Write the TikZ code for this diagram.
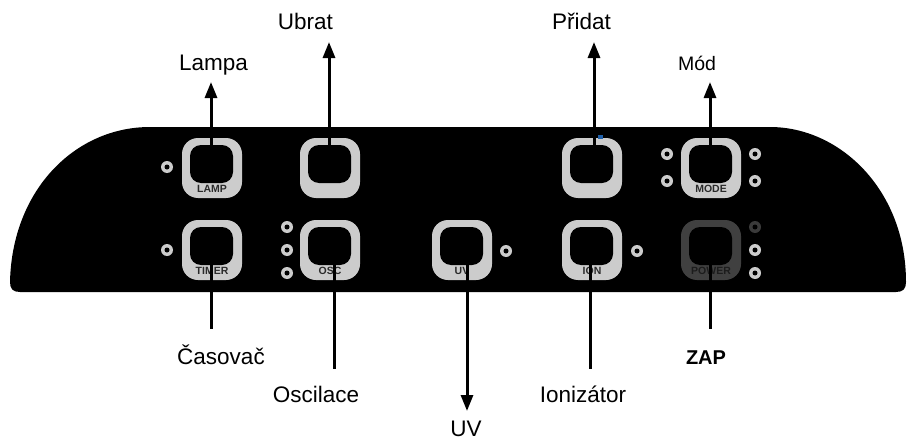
\documentclass[tikz,border=0pt]{standalone}
\usepackage{fontspec}
\setmainfont{Liberation Sans}
\usetikzlibrary{arrows.meta}
\definecolor{btngray}{HTML}{CCCCCC}
\definecolor{pwrgray}{HTML}{404040}
\definecolor{lbldark}{HTML}{2A2A2A}
\definecolor{pwrtext}{HTML}{1C1C1C}
\definecolor{leddark}{HTML}{3A3A3A}
\definecolor{ledblue}{HTML}{1F5FA8}
\newcommand\panelbtn[6]{%
  \node[rim,fill=#5] (#1) at (#2,#3) {};
  \node[hole] (#1h) at (#2-0.5,#3-4) {};
  \node[btxt,text=#6] (#1t) at (#2,#3+20.5) {#4};
}
\newcommand\panelled[4]{%
  \node[ledo,fill=#4] (#1) at (#2,#3) {};
  \node[ledi] (#1c) at (#2,#3) {};
}
\begin{document}
\begin{tikzpicture}[x=1pt,y=-1pt,
  rim/.style={draw=none,rectangle,minimum width=60pt,minimum height=60pt,rounded corners=16pt,inner sep=0pt},
  hole/.style={draw=none,fill=black,rectangle,minimum width=43pt,minimum height=38pt,rounded corners=11pt,inner sep=0pt},
  btxt/.style={font=\fontsize{10.5}{12}\selectfont\bfseries,inner sep=0pt},
  ledo/.style={circle,minimum size=12pt,inner sep=0pt},
  ledi/.style={circle,fill=black,minimum size=5pt,inner sep=0pt},
  lbl/.style={font=\fontsize{22.5}{26}\selectfont,inner sep=0pt,anchor=base},
  wire/.style={line width=3pt,draw=black},
  upwire/.style={wire,-{Triangle[length=16pt,width=12pt]}}
]
\useasboundingbox (0,0) rectangle (911,439);
\fill[white] (0,0) rectangle (911,439);
% panel
\fill[black] (150,127) -- (770,127) .. controls (840,127) and (906,190) .. (906,282)
  .. controls (906,289) and (903,292) .. (896,292) -- (20,292)
  .. controls (13,292) and (10,289) .. (10,282)
  .. controls (12,190) and (75,127) .. (150,127) -- cycle;
% buttons
\panelbtn{lamp}{212}{168}{LAMP}{btngray}{lbldark}
\panelbtn{ubtn}{330}{168}{}{btngray}{lbldark}
\panelbtn{pbtn}{592}{168}{}{btngray}{lbldark}
\panelbtn{mode}{711}{168}{MODE}{btngray}{lbldark}
\panelbtn{timer}{212}{250}{TIMER}{btngray}{lbldark}
\panelbtn{osc}{330}{250}{OSC}{btngray}{lbldark}
\panelbtn{uv}{462}{250}{UV}{btngray}{lbldark}
\panelbtn{ion}{592}{250}{ION}{btngray}{lbldark}
\panelbtn{power}{711}{250}{POWER}{pwrgray}{pwrtext}
\fill[ledblue] (598,135) rectangle (603,139);
% leds
\panelled{l1}{167}{167}{btngray}
\panelled{l2}{167}{250}{btngray}
\panelled{l3}{287}{227}{btngray}
\panelled{l4}{287}{250}{btngray}
\panelled{l5}{287}{273}{btngray}
\panelled{l6}{506}{251}{btngray}
\panelled{l7}{637}{251}{btngray}
\panelled{l8}{667}{154}{btngray}
\panelled{l9}{667}{181}{btngray}
\panelled{l10}{755}{154}{btngray}
\panelled{l11}{755}{181}{btngray}
\panelled{l12}{755}{227}{leddark}
\panelled{l13}{755}{250}{btngray}
\panelled{l14}{755}{273}{btngray}
% wire end points
\coordinate (lampIn) at (211,150);  \coordinate (lampTip) at (211,82);
\coordinate (ubIn) at (329,150);    \coordinate (ubTip) at (329,42);
\coordinate (prIn) at (594,150);    \coordinate (prTip) at (594,42);
\coordinate (modeIn) at (710,150);  \coordinate (modeTip) at (710,82);
\coordinate (timerIn) at (211,256); \coordinate (timerEnd) at (211,329);
\coordinate (oscIn) at (334,256);   \coordinate (oscEnd) at (334,369);
\coordinate (uvIn) at (467,256);    \coordinate (uvTip) at (467,411);
\coordinate (ionIn) at (590,256);   \coordinate (ionEnd) at (590,369);
\coordinate (pwrIn) at (710,256);   \coordinate (pwrEnd) at (710,329);
\draw[upwire] (lampIn) -- (lampTip);
\draw[upwire] (ubIn) -- (ubTip);
\draw[upwire] (prIn) -- (prTip);
\draw[upwire] (modeIn) -- (modeTip);
\draw[wire] (timerIn) -- (timerEnd);
\draw[wire] (oscIn) -- (oscEnd);
\draw[upwire] (uvIn) -- (uvTip);
\draw[wire] (ionIn) -- (ionEnd);
\draw[wire] (pwrIn) -- (pwrEnd);
% labels
\node[lbl] (tLampa) at (213.5,70) {Lampa};
\node[lbl,anchor=base east] (tUbrat) at (333,30) {Ubrat};
\node[lbl,anchor=base east] (tPridat) at (611,30) {Přidat};
\node[lbl,font=\fontsize{19.5}{23}\selectfont] (tMod) at (697,70) {Mód};
\node[lbl] (tCas) at (221,364) {Časovač};
\node[lbl] (tOsc) at (316,402) {Oscilace};
\node[lbl] (tUV) at (466,436) {UV};
\node[lbl] (tIon) at (583,402) {Ionizátor};
\node[lbl,font=\fontsize{20}{24}\selectfont\bfseries] (tZap) at (706,364) {ZAP};
\end{tikzpicture}
\end{document}
